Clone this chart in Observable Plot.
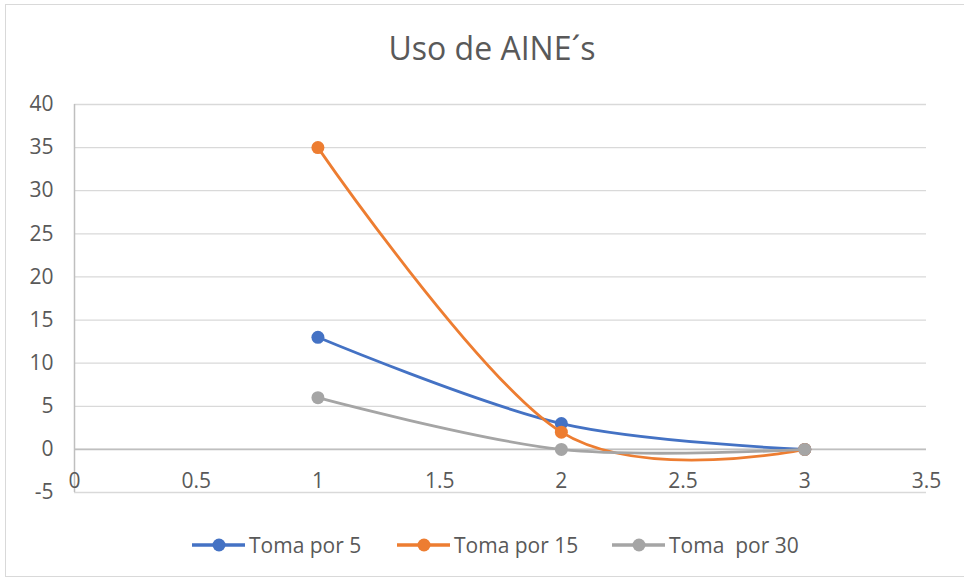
<!DOCTYPE html>
<html>
<head>
<meta charset="utf-8">
<script src="https://cdn.jsdelivr.net/npm/d3@7"></script>
<script src="https://cdn.jsdelivr.net/npm/@observablehq/plot@0.6"></script>
<style>
  html, body { margin: 0; padding: 0; background: #fff; }
  #wrap { position: relative; width: 964px; height: 580px; overflow: hidden; font-family: "Open Sans", sans-serif; }
  #frame { position: absolute; left: 5px; top: 4px; width: 968px; height: 573px; border: 1.5px solid #d9d9d9; box-sizing: border-box; }
  #title { position: absolute; left: 0; width: 984px; top: 32px; line-height: 32px; text-align: center; font-size: 32px; color: #595959; }
  #legend { position: absolute; top: 532px; left: 0; width: 964px; height: 26px; }
  .item { position: absolute; top: 0; height: 26px; display: flex; align-items: center; font-size: 21px; color: #595959; white-space: pre; }
  .item svg { margin-right: 4px; }
  #chart { position: absolute; left: 0; top: 0; }
</style>
</head>
<body>
<div id="wrap">
  <div id="frame"></div>
  <div id="chart"></div>
  <div id="title">Uso de AINE´s</div>
  <div id="legend"></div>
</div>
<script>
const xs = [1, 2, 3];
const seriesNames = ["Toma por 5", "Toma por 15", "Toma  por 30"];
const toma5 = [13, 3, 0];
const toma15 = [35, 2, 0];
const toma30 = [6, 0, 0];
const seriesValues = [toma5, toma15, toma30];
const colors = ["#4472C4", "#ED7D31", "#A5A5A5"];
const xTicks = [0, 0.5, 1, 1.5, 2, 2.5, 3, 3.5];
const yTicks = [-5, 0, 5, 10, 15, 20, 25, 30, 35, 40];

const rows = seriesNames.map((name, i) => xs.map((x, j) => ({series: name, x, y: seriesValues[i][j]})));

const marks = [
  Plot.gridY(yTicks, {stroke: "#d9d9d9", strokeOpacity: 1, strokeWidth: 1.3}),
  Plot.ruleX([0], {stroke: "#bfbfbf", strokeWidth: 1.5}),
  Plot.ruleY([0], {stroke: "#bfbfbf", strokeWidth: 1.8}),
  Plot.axisY(yTicks, {tickSize: 0, tickPadding: 21, label: null, tickFormat: d => String(d), fontSize: 21, fill: "#595959", fontFamily: "Open Sans"}),
  Plot.text(xTicks, {x: d => d, y: 0, dy: 32, text: d => String(d), fontSize: 21, fill: "#595959", fontFamily: "Open Sans"})
];
rows.forEach((data, i) => {
  marks.push(Plot.line(data, {x: "x", y: "y", stroke: colors[i], strokeWidth: 2.8, curve: "cardinal"}));
  marks.push(Plot.dot(data, {x: "x", y: "y", fill: colors[i], r: 6.5}));
});

const chart = Plot.plot({
  width: 964,
  height: 580,
  marginLeft: 74,
  marginRight: 38,
  marginTop: 104,
  marginBottom: 88,
  x: {domain: [0, 3.5], axis: null},
  y: {domain: [-5, 40], axis: null},
  style: {background: "transparent", overflow: "visible"},
  marks
});
document.getElementById("chart").appendChild(chart);

const legendPos = [192, 397, 612];
const legend = document.getElementById("legend");
seriesNames.forEach((name, i) => {
  const item = document.createElement("div");
  item.className = "item";
  item.style.left = legendPos[i] + "px";
  item.innerHTML = `<svg width="53" height="26"><line x1="0" y1="13" x2="53" y2="13" stroke="${colors[i]}" stroke-width="3.5"/><circle cx="27" cy="13" r="6.5" fill="${colors[i]}"/></svg><span>${name}</span>`;
  legend.appendChild(item);
});
</script>
</body>
</html>
